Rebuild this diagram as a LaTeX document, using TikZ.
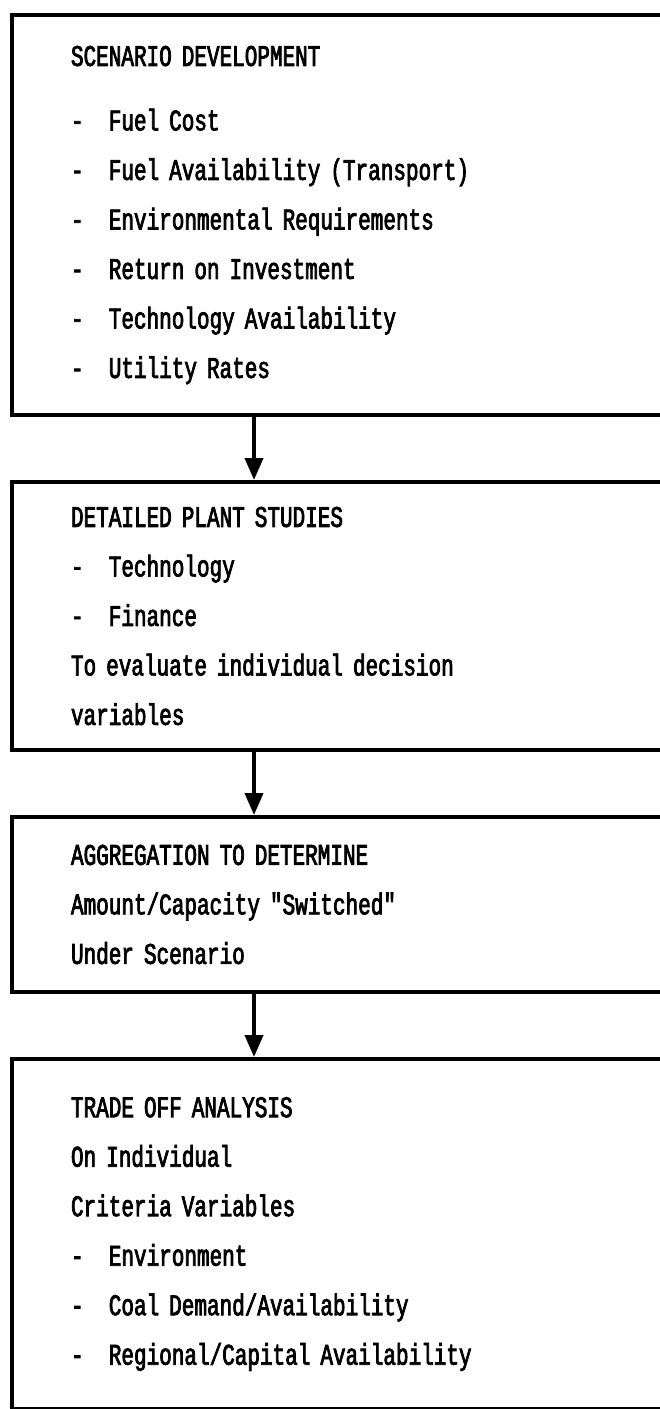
\documentclass[tikz,border=0pt]{standalone}
\usepackage{fontspec}
\usetikzlibrary{arrows.meta,positioning}
\newfontfamily\typer[FakeStretch=0.70,FakeBold=2.5]{Liberation Mono}
\newcommand\typefont{\typer\fontsize{30}{49.5}\selectfont
  \spaceskip=\fontcharwd\font`x\relax \xspaceskip=\spaceskip}
\newcommand\itm{-\hspace{\dimexpr2\fontcharwd\font`x\relax}}
\tikzset{
  stage/.style={draw=black,line width=4pt,minimum width=800pt,inner xsep=59pt,text width=682pt,align=left,font=\typefont},
  flow/.style={-{Triangle[length=22pt,width=18pt]},line width=4pt}
}

\begin{document}
\begin{tikzpicture}[node distance=63pt]
    \useasboundingbox (0pt,0pt) rectangle (660pt,-1409pt);
    \node[stage,anchor=north west,minimum height=400pt] (scen) at (10pt,-13pt)
      {SCENARIO DEVELOPMENT\\[15pt]
       \itm Fuel Cost\\
       \itm Fuel Availability (Transport)\\
       \itm Environmental Requirements\\
       \itm Return on Investment\\
       \itm Technology Availability\\
       \itm Utility Rates};
    \node[stage,below=of scen,minimum height=268pt] (plant)
      {DETAILED PLANT STUDIES\\
       \itm Technology\\
       \itm Finance\\
       To evaluate individual decision\\
       variables};
    \node[stage,below=of plant,minimum height=175pt] (aggr)
      {AGGREGATION TO DETERMINE\\
       Amount/Capacity "Switched"\\
       Under Scenario};
    \node[stage,below=of aggr,minimum height=350pt] (trade)
      {TRADE OFF ANALYSIS\\
       On Individual\\
       Criteria Variables\\
       \itm Environment\\
       \itm Coal Demand/Availability\\
       \itm Regional/Capital Availability};

    \draw[flow] ([xshift=244pt]scen.south west) -- ([xshift=244pt]plant.north west);
    \draw[flow] ([xshift=244pt]plant.south west) -- ([xshift=244pt]aggr.north west);
    \draw[flow] ([xshift=244pt]aggr.south west) -- ([xshift=244pt]trade.north west);
\end{tikzpicture}
\end{document}
